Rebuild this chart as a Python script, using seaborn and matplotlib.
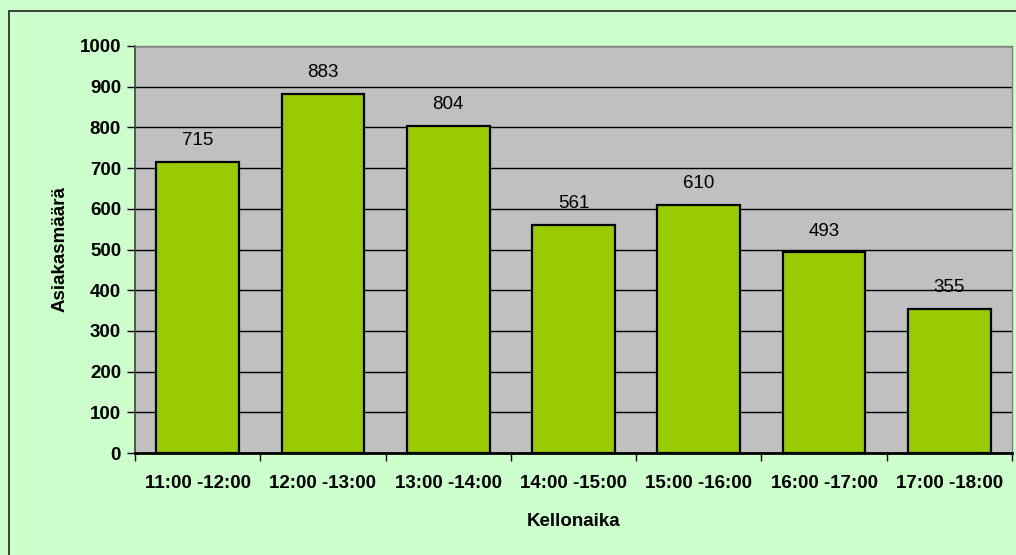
import matplotlib
matplotlib.use("Agg")
import matplotlib.pyplot as plt
from matplotlib.patches import Rectangle
import seaborn as sns
import pandas as pd

categories = ["11:00 -12:00", "12:00 -13:00", "13:00 -14:00", "14:00 -15:00",
              "15:00 -16:00", "16:00 -17:00", "17:00 -18:00"]
customers = [715, 883, 804, 561, 610, 493, 355]
y_ticks = [0, 100, 200, 300, 400, 500, 600, 700, 800, 900, 1000]

df = pd.DataFrame({"Kellonaika": categories, "Asiakasmäärä": customers})

sns.set_theme(style="white")
plt.rcParams["font.family"] = ["Liberation Sans", "DejaVu Sans"]

fig = plt.figure(figsize=(10.16, 5.55), dpi=100, facecolor="#CCFFCC")
ax = fig.add_axes([135 / 1016, 1 - 453 / 555, (1012 - 135) / 1016, (453 - 46) / 555])
ax.set_facecolor("#C0C0C0")

sns.barplot(data=df, x="Kellonaika", y="Asiakasmäärä", color="#99CC00",
            width=0.66, edgecolor="black", linewidth=1.6, saturation=1,
            ax=ax, zorder=3)

ax.set_ylim(0, 1000)
ax.set_xlim(-0.5, len(categories) - 0.5)
ax.set_yticks(y_ticks)
ax.yaxis.grid(True, color="black", linewidth=1.0, zorder=0)
ax.set_axisbelow(True)

# category boundary ticks on x axis
ax.set_xticks([i - 0.5 for i in range(len(categories) + 1)], minor=True)
ax.tick_params(axis="x", which="major", length=0, pad=16)
ax.tick_params(axis="x", which="minor", length=6, width=1, color="black",
               direction="out", bottom=True)
ax.tick_params(axis="y", which="major", length=6, width=1, color="black",
               direction="out", left=True, pad=4)

for lbl in ax.get_xticklabels() + ax.get_yticklabels():
    lbl.set_fontsize(13.5)
    lbl.set_fontweight("bold")
    lbl.set_color("black")

ax.set_xlabel("Kellonaika", fontsize=13.5, fontweight="bold", color="black", labelpad=15)
ax.set_ylabel("Asiakasmäärä", fontsize=13.5, fontweight="bold", color="black", labelpad=8)

for side in ["top", "right"]:
    ax.spines[side].set_visible(True)
    ax.spines[side].set_color("#808080")
    ax.spines[side].set_linewidth(1.0)
ax.spines["left"].set_color("#404040")
ax.spines["left"].set_linewidth(1.2)
ax.spines["bottom"].set_color("black")
ax.spines["bottom"].set_linewidth(2.0)
ax.spines["bottom"].set_zorder(5)

ax.bar_label(ax.containers[0], labels=[str(v) for v in customers],
             padding=9, fontsize=13.5, color="black")

# outer chart-area border
fig.patches.append(Rectangle((9 / 1016, -0.1), 1.2, 1 - 11 / 555 + 0.1,
                             transform=fig.transFigure, fill=False,
                             edgecolor="#202020", linewidth=1.2))

fig.savefig("out.png", dpi=100, facecolor=fig.get_facecolor())
